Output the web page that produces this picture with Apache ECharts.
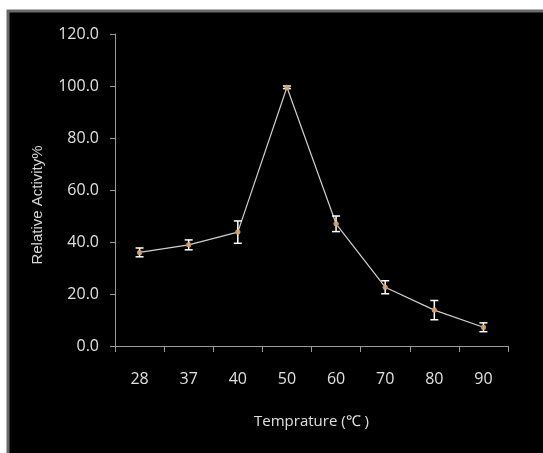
<!DOCTYPE html>
<html>
<head>
<meta charset="utf-8">
<script src="https://cdn.jsdelivr.net/npm/echarts@6/dist/echarts.min.js"></script>
<style>
html,body{margin:0;padding:0;background:#fff;}
#chart{width:543px;height:453px;}
</style>
</head>
<body>
<div id="chart"></div>
<script>
const categories = ['28', '37', '40', '50', '60', '70', '80', '90'];
const activity = [36.0, 38.9, 43.8, 99.5, 47.0, 22.6, 13.8, 7.2];
const errors = [1.7, 1.9, 4.3, 0.5, 3.0, 2.5, 3.7, 1.7];
const yTicks = [0, 20, 40, 60, 80, 100, 120];

const chart = echarts.init(document.getElementById('chart'));
const errData = categories.map((c, i) => [i, activity[i] - errors[i], activity[i] + errors[i]]);

chart.setOption({
  backgroundColor: '#ffffff',
  animation: false,
  graphic: [{
    type: 'rect',
    z: -100,
    shape: { x: 8, y: 11, width: 545, height: 450 },
    style: { fill: '#000000', stroke: '#6a6a6a', lineWidth: 3 }
  }],
  grid: { left: 115, top: 34, right: 35, bottom: 107 },
  xAxis: {
    type: 'category',
    data: categories,
    boundaryGap: true,
    name: 'Temprature (\u2103 )',
    nameLocation: 'middle',
    nameGap: 68,
    nameTextStyle: { color: '#e0e0e0', fontSize: 15, fontFamily: 'Open Sans' },
    axisLine: { lineStyle: { color: '#9a9a9a', width: 1 } },
    axisTick: { show: true, inside: false, length: 6, alignWithLabel: false, lineStyle: { color: '#9a9a9a' } },
    axisLabel: { color: '#e0e0e0', fontSize: 16, fontFamily: 'Open Sans', margin: 25 },
    splitLine: { show: false }
  },
  yAxis: {
    type: 'value',
    min: yTicks[0],
    max: yTicks[yTicks.length - 1],
    interval: 20,
    name: 'Relative Activity%',
    nameLocation: 'middle',
    nameGap: 70,
    nameRotate: 90,
    nameTextStyle: { color: '#d8d8d8', fontSize: 15, fontFamily: 'Liberation Sans', padding: [0, 0, 0, -30] },
    axisLine: { show: true, lineStyle: { color: '#9a9a9a', width: 1 } },
    axisTick: { show: true, inside: false, length: 5, lineStyle: { color: '#9a9a9a' } },
    axisLabel: { color: '#e0e0e0', fontSize: 16, fontFamily: 'Open Sans', margin: 16, formatter: v => v.toFixed(1) },
    splitLine: { show: false }
  },
  series: [
    {
      type: 'line',
      data: activity,
      symbol: 'circle',
      symbolSize: 5,
      lineStyle: { color: '#d0d0d0', width: 1.2 },
      itemStyle: { color: '#c9955b' },
      z: 3
    },
    {
      type: 'custom',
      data: errData,
      z: 4,
      renderItem: function (params, api) {
        const x = api.value(0);
        const lo = api.coord([x, api.value(1)]);
        const hi = api.coord([x, api.value(2)]);
        const hw = 4;
        const st = { stroke: '#ffffff', lineWidth: 1.5 };
        return {
          type: 'group',
          children: [
            { type: 'line', shape: { x1: lo[0], y1: lo[1], x2: hi[0], y2: hi[1] }, style: st },
            { type: 'line', shape: { x1: lo[0] - hw, y1: lo[1], x2: lo[0] + hw, y2: lo[1] }, style: st },
            { type: 'line', shape: { x1: hi[0] - hw, y1: hi[1], x2: hi[0] + hw, y2: hi[1] }, style: st }
          ]
        };
      }
    },
    {
      type: 'scatter',
      data: activity,
      symbol: 'circle',
      symbolSize: 5,
      itemStyle: { color: '#c9955b' },
      z: 5
    }
  ]
});
</script>
</body>
</html>
